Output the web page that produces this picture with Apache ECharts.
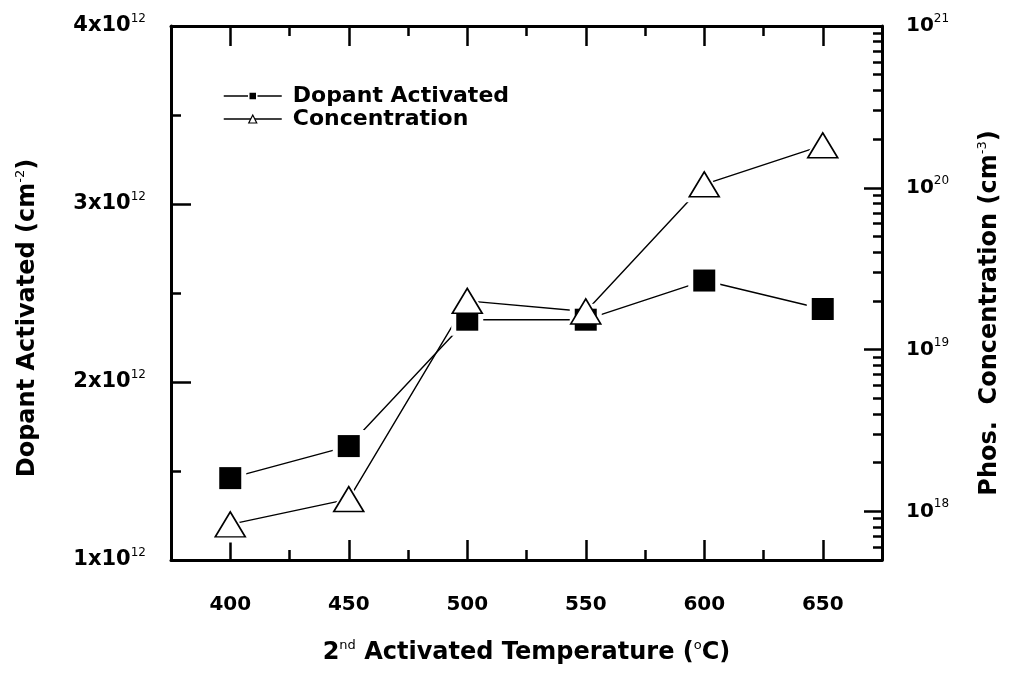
<!DOCTYPE html>
<html>
<head>
<meta charset="utf-8">
<title>Dopant Activated and Phos. Concentration vs 2nd Activated Temperature</title>
<script src="https://cdn.jsdelivr.net/npm/echarts@6/dist/echarts.min.js"></script>
<style>
  html, body { margin: 0; padding: 0; background: #fff; }
  #chart { width: 1010px; height: 675px; }
</style>
</head>
<body>
<div id="chart"></div>
<script>
// Second activation temperature (°C)
const temps = [400, 450, 500, 550, 600, 650];
// Activated dopant dose (cm^-2), left axis
const dopant = [1.46e12, 1.64e12, 2.35e12, 2.35e12, 2.57e12, 2.41e12];
// Phosphorus concentration (cm^-3), right log axis
const conc = [8.3e17, 1.19e18, 2.0e19, 1.72e19, 1.05e20, 1.83e20];

// Tick positions
const xMajor = [400, 450, 500, 550, 600, 650];
const xMinor = [425, 475, 525, 575, 625];
const logMajor = [1e18, 1e19, 1e20, 1e21];
const logMinor = [6e17, 7e17, 8e17, 9e17,
  2e18, 3e18, 4e18, 5e18, 6e18, 7e18, 8e18, 9e18,
  2e19, 3e19, 4e19, 5e19, 6e19, 7e19, 8e19, 9e19,
  2e20, 3e20, 4e20, 5e20, 6e20, 7e20, 8e20, 9e20];

// log axis extent (a hair above 1e21 so the top decade label survives rounding)
const LOG_MIN = 5e17;
const LOG_MAX = 1.000001e21;

const FONT = 'DejaVu Sans';
const richLeft = {
  b: { fontFamily: FONT, fontSize: 21, fontWeight: 'bold', color: '#000', lineHeight: 26 },
  s: { fontFamily: FONT, fontSize: 12, color: '#000', verticalAlign: 'top', lineHeight: 14 }
};
const richRight = {
  b: { fontFamily: FONT, fontSize: 20, fontWeight: 'bold', color: '#000', lineHeight: 26 },
  s: { fontFamily: FONT, fontSize: 12, color: '#000', verticalAlign: 'top', lineHeight: 14 }
};
const nameRich = {
  b: { fontFamily: FONT, fontSize: 24, fontWeight: 'bold', color: '#000', lineHeight: 28 },
  s: { fontFamily: FONT, fontSize: 13, color: '#000', verticalAlign: 'top', lineHeight: 14 }
};

const dopantPts = temps.map((t, i) => [t, dopant[i]]);
const concPts = temps.map((t, i) => [t, conc[i]]);

const axisLine = { show: true, lineStyle: { color: '#000', width: 3 } };
const tickSet = (vals, len) => ({ show: true, inside: true, length: len, customValues: vals, lineStyle: { color: '#000', width: 2.5 } });

const chart = echarts.init(document.getElementById('chart'), null, { renderer: 'canvas' });
chart.setOption({
  animation: false,
  backgroundColor: '#fff',
  grid: { left: 171, right: 127, top: 26, bottom: 115, containLabel: false },
  legend: {
    orient: 'vertical',
    left: 218,
    top: 80,
    itemWidth: 58,
    itemHeight: 10,
    itemGap: 1,
    selectedMode: false,
    textStyle: { fontFamily: FONT, fontSize: 22, fontWeight: 'bold', color: '#000', padding: [0, 0, 0, 6] },
    lineStyle: { color: '#000', width: 1.5, opacity: 1 },
    data: [
      { name: 'Dopant Activated', itemStyle: { color: '#000', opacity: 1, borderColor: '#fff', borderWidth: 1.5 } },
      { name: 'Concentration', itemStyle: { color: '#fff', opacity: 1, borderColor: '#000', borderWidth: 1.2 } }
    ]
  },
  xAxis: [
    {
      type: 'value', position: 'bottom', min: 375, max: 675,
      axisLine: axisLine,
      axisTick: tickSet(xMajor, 20),
      splitLine: { show: false },
      axisLabel: {
        customValues: xMajor, margin: 35,
        fontFamily: FONT, fontSize: 20, fontWeight: 'bold', color: '#000'
      },
      name: '{b|2}{s|nd}{b| Activated Temperature (}{s|o}{b|C)}',
      nameLocation: 'middle', nameGap: 79,
      nameTextStyle: { rich: nameRich }
    },
    {
      type: 'value', position: 'bottom', min: 375, max: 675,
      axisLine: { show: false },
      axisTick: tickSet(xMinor, 10),
      axisLabel: { show: false }, splitLine: { show: false }
    },
    {
      type: 'value', position: 'top', min: 375, max: 675,
      axisLine: axisLine,
      axisTick: tickSet(xMajor, 20),
      axisLabel: { show: false }, splitLine: { show: false }
    },
    {
      type: 'value', position: 'top', min: 375, max: 675,
      axisLine: { show: false },
      axisTick: tickSet(xMinor, 10),
      axisLabel: { show: false }, splitLine: { show: false }
    }
  ],
  yAxis: [
    {
      type: 'value', position: 'left', min: 1e12, max: 4e12, interval: 1e12,
      axisLine: axisLine,
      axisTick: { show: true, inside: true, length: 20, lineStyle: { color: '#000', width: 2.5 } },
      minorTick: { show: true, splitNumber: 2, length: 10, lineStyle: { color: '#000', width: 2.5 } },
      splitLine: { show: false },
      axisLabel: {
        margin: 25,
        formatter: v => '{b|' + Math.round(v / 1e12) + 'x10}{s|12}',
        rich: richLeft
      },
      name: '{b|Dopant Activated (cm}{s|-2}{b|)}',
      nameLocation: 'middle', nameGap: 129,
      nameTextStyle: { rich: nameRich, padding: [0, 50, 0, 0] }
    },
    {
      type: 'log', logBase: 10, position: 'right', min: LOG_MIN, max: LOG_MAX,
      axisLine: axisLine,
      axisTick: tickSet(logMajor, 18),
      splitLine: { show: false },
      axisLabel: {
        customValues: logMajor, margin: 24,
        formatter: v => '{b|10}{s|' + Math.round(Math.log10(v)) + '}',
        rich: richRight
      },
      name: '{b|Phos.  Concentration (cm}{s|-3}{b|)}',
      nameLocation: 'middle', nameGap: 94,
      nameTextStyle: { rich: nameRich, padding: [0, 40, 0, 0] }
    },
    {
      type: 'log', logBase: 10, position: 'right', min: LOG_MIN, max: LOG_MAX,
      axisLine: { show: false },
      axisTick: tickSet(logMinor, 9),
      axisLabel: { show: false }, splitLine: { show: false }
    }
  ],
  series: [
    {
      // connecting line; the white halo symbols leave a gap around each marker
      name: 'Dopant Activated', type: 'line', xAxisIndex: 0, yAxisIndex: 0,
      data: dopantPts, symbol: 'rect', symbolSize: 32, z: 2, silent: true,
      itemStyle: { color: '#fff', opacity: 1 },
      lineStyle: { color: '#000', width: 1.4, opacity: 1 }
    },
    {
      name: 'Concentration', type: 'line', xAxisIndex: 0, yAxisIndex: 1,
      data: concPts, symbol: 'triangle', symbolSize: [42, 36], z: 2, silent: true,
      itemStyle: { color: '#fff', opacity: 1 },
      lineStyle: { color: '#000', width: 1.4, opacity: 1 }
    },
    {
      name: 'dopantMarks', type: 'scatter', xAxisIndex: 0, yAxisIndex: 0,
      data: dopantPts, symbol: 'rect', symbolSize: 22, z: 3, silent: true,
      itemStyle: { color: '#000', opacity: 1 }
    },
    {
      name: 'concMarks', type: 'scatter', xAxisIndex: 0, yAxisIndex: 1,
      data: concPts, symbol: 'triangle', symbolSize: [30, 25], z: 4, silent: true,
      itemStyle: { color: '#fff', opacity: 1, borderColor: '#000', borderWidth: 1.6 }
    }
  ]
});
</script>
</body>
</html>
